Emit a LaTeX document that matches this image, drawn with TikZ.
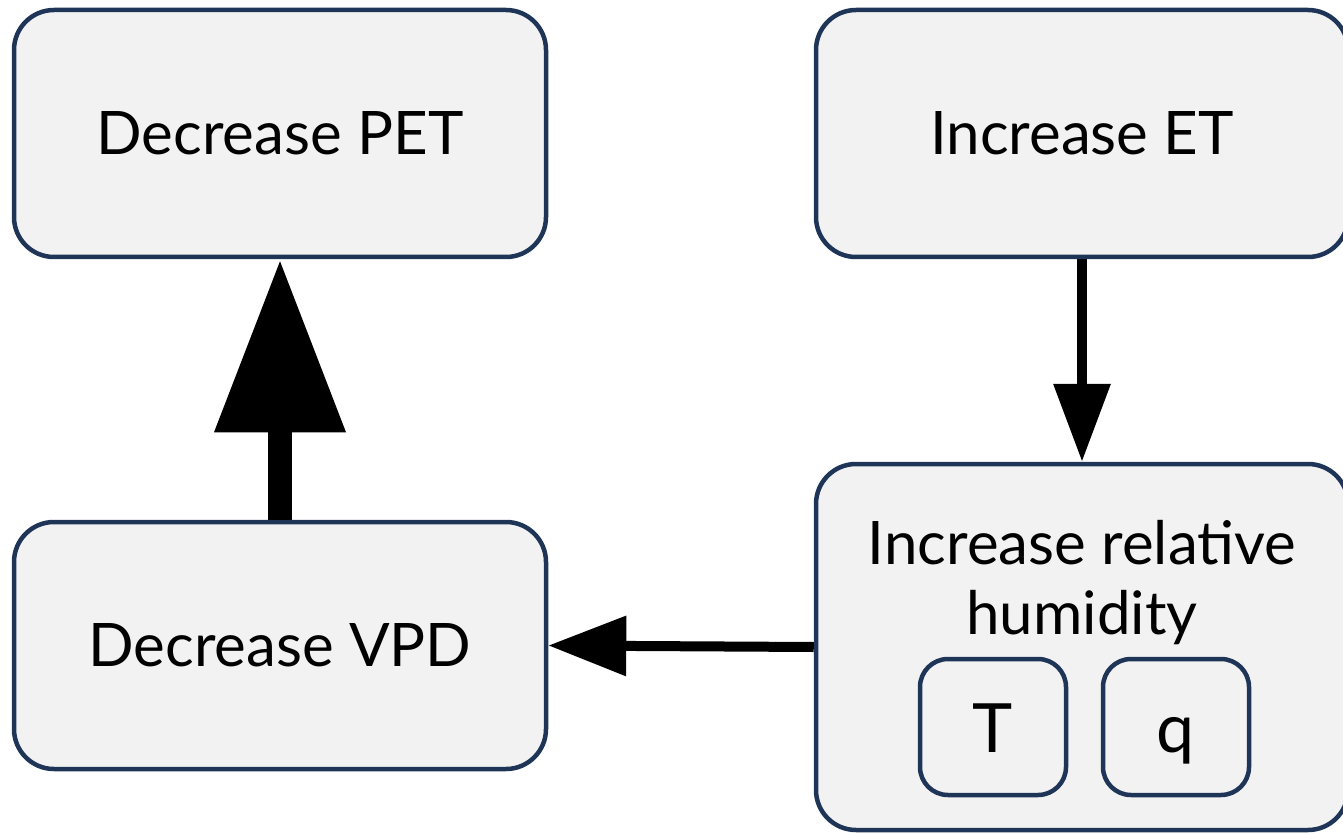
\documentclass[tikz,border=0pt]{standalone}
\usepackage{fontspec}
\setmainfont{Lato}
\usetikzlibrary{arrows.meta}
\definecolor{boxfill}{HTML}{F2F2F2}
\definecolor{boxline}{HTML}{1F3557}
\begin{document}
\begin{tikzpicture}[x=1pt,y=-1pt,
  bigbox/.style={draw=boxline,fill=boxfill,line width=4.5pt,rounded corners=40pt,
    minimum width=532pt,minimum height=247pt,inner sep=0pt,
    font=\fontsize{60}{70}\selectfont,align=center},
  smallbox/.style={draw=boxline,fill=boxfill,line width=4.5pt,rounded corners=28pt,
    minimum width=146pt,minimum height=136pt,inner sep=0pt,
    text height=50pt,text depth=0pt,
    font=\fontsize{68}{70}\selectfont}]
\useasboundingbox (0,0) rectangle (1343,834);
\node[bigbox] (pet) at (280,133.5) {Decrease PET};
\node[bigbox] (et) at (1082,133.5) {Increase ET};
\node[bigbox] (vpd) at (280,645.5) {Decrease VPD};
\node[bigbox,minimum height=366pt] (rh) at (1082,647) {};
\node[font=\fontsize{60}{70}\selectfont,align=center,anchor=base] (rhtext) at (1082,634) {Increase relative\\humidity};
\node[smallbox] (T) at (993,727) {T};
\node[smallbox] (q) at (1176,727) {q};
\draw[line width=24pt,-{Triangle[length=173pt,width=125pt]}] (vpd.north) -- (pet.south);
\draw[line width=10pt,-{Triangle[length=78pt,width=55pt]}] (et.south) -- (rh.north);
\draw[line width=10pt,-{Triangle[length=78pt,width=58pt]}] (rh.west) -- (vpd.east);
\end{tikzpicture}
\end{document}
